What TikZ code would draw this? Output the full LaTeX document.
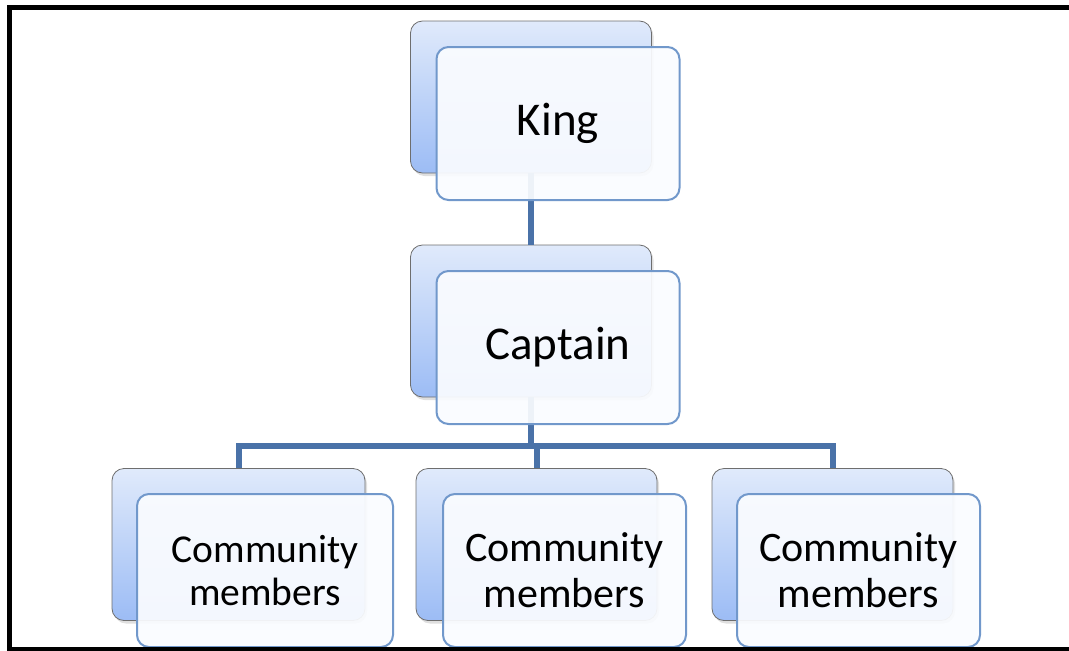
\documentclass[tikz,border=0pt]{standalone}
\usepackage{fontspec}
\setmainfont{Carlito}
\usetikzlibrary{shadows}
\definecolor{linkblue}{HTML}{4A72A8}
\definecolor{frontedge}{HTML}{7198CB}
\definecolor{frontfill}{HTML}{FAFCFF}
\definecolor{backtop}{HTML}{E0EAFB}
\definecolor{backbottom}{HTML}{9CBCF5}
\definecolor{backedge}{HTML}{6E6E6E}

\begin{document}
\begin{tikzpicture}[x=1pt, y=-1pt,
    backbox/.style={rectangle, rounded corners=12pt, minimum width=241pt,
      minimum height=152pt, draw=backedge, line width=0.8pt,
      top color=backtop, bottom color=backbottom,
      drop shadow={shadow xshift=2pt, shadow yshift=-3pt, opacity=0.25}},
    frontbox/.style={rectangle, rounded corners=12pt, minimum width=243pt,
      minimum height=153pt, draw=frontedge, line width=2pt, fill=frontfill,
      fill opacity=0.93, text opacity=1, align=center, inner sep=0pt},
    bigtext/.style={font=\fontsize{47}{56}\selectfont},
    smalltext/.style={font=\fontsize{42}{46}\selectfont},
    link/.style={line width=6pt, draw=linkblue, line join=miter}
  ]
    \useasboundingbox (0,0) rectangle (1069,651);

    \node[backbox] (kingback) at (531,97) {};
    \node[backbox] (capback) at (531,321) {};
    \node[backbox, minimum width=253pt] (memberlback) at (238.5,544.5) {};
    \node[backbox] (membermback) at (536.5,544.5) {};
    \node[backbox] (memberrback) at (832.5,544.5) {};

    \coordinate (bus) at (531,446);
    \draw[link] (kingback.south) -- (capback.north);
    \draw[link] (capback.south) -- (capback.south |- bus);
    \draw[link] (memberlback.north) |- (memberrback.north |- bus) -- (memberrback.north);
    \draw[link] (membermback.north) -- (membermback.north |- bus);

    \node[frontbox, bigtext] (king) at (558,123.5) {King};
    \node[frontbox, bigtext] (captain) at (558,347.5) {Captain};
    \node[frontbox, minimum width=256pt, font=\fontsize{39.5}{43}\selectfont]
      (memberl) at (265,570.5) {Community\\members};
    \node[frontbox, smalltext] (memberm) at (564.5,570.5) {Community\\members};
    \node[frontbox, smalltext] (memberr) at (858.5,570.5) {Community\\members};

    \draw[line width=5pt] (9.5,7.5) rectangle (1100,649);
\end{tikzpicture}
\end{document}
